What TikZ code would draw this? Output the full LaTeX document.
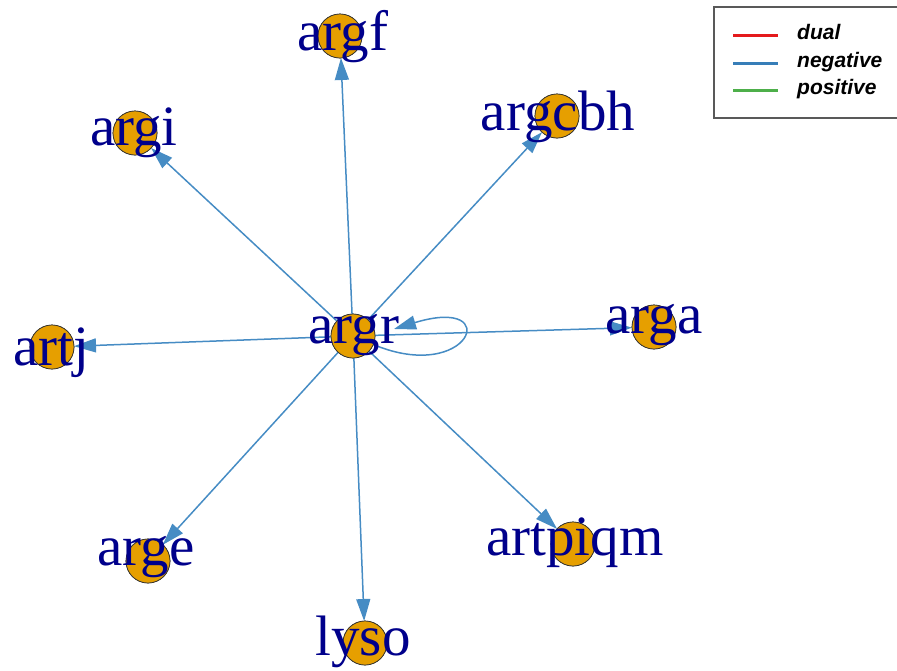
\documentclass[tikz,border=0pt]{standalone}
\usepackage{fontspec}
\setmainfont{Liberation Serif}
\newfontfamily\legendfont{Liberation Sans}
\usetikzlibrary{arrows.meta}
\definecolor{vtxorange}{HTML}{E69F00}
\definecolor{negblue}{RGB}{70,140,196}
\definecolor{leg-red}{HTML}{E41A1C}
\definecolor{leg-blue}{HTML}{377EB8}
\definecolor{leg-green}{HTML}{4DAF4A}
\definecolor{lbl-navy}{HTML}{00008B}
\begin{document}
\begin{tikzpicture}[x=1pt, y=-1pt,
    vtx/.style={circle, draw=black!80, fill=vtxorange, line width=0.7pt,
      minimum size=44pt, inner sep=0pt, outer sep=0pt},
    lbl/.style={anchor=base, inner sep=0pt, text=lbl-navy,
      font=\fontsize{57}{57}\selectfont},
    neg/.style={draw=negblue, line width=1.5pt,
      -{Triangle[length=22pt, width=14pt]}},
    legtxt/.style={anchor=mid west, inner sep=0pt,
      font=\legendfont\fontsize{21}{21}\selectfont\bfseries\itshape},
    legline/.style={line width=3pt}
  ]
    \useasboundingbox (0,0) rectangle (897,670);

    % Vertices
    \node[vtx] (argr) at (353,336) {};
    \node[vtx] (argf) at (340,36) {};
    \node[vtx] (argi) at (135,133) {};
    \node[vtx] (argcbh) at (557,116) {};
    \node[vtx] (arga) at (654,327) {};
    \node[vtx] (artj) at (52,347) {};
    \node[vtx] (arge) at (148,561) {};
    \node[vtx] (lyso) at (365,643) {};
    \node[vtx] (artpiqm) at (573,544) {};
    \coordinate (argr-loop) at (394,329);

    % Edges (all negative)
    \foreach \t in {argf,argi,argcbh,arga,artj,arge,lyso,artpiqm}
        \draw[neg] (argr) -- (\t);
    % Self-loop
    \draw[neg] (argr) .. controls (470,385) and (505,295) .. (argr-loop);

    % Vertices again on top of the edges
    \foreach \v in {argr,argf,argi,argcbh,arga,artj,arge,lyso,artpiqm}
        \node[vtx] at (\v) {};

    % Labels
    \foreach \v/\bx/\by in {argr/354/343, argf/343/50, argi/134/145,
        argcbh/558/130, arga/654/333, artj/51/365, arge/146/565,
        lyso/363/655, artpiqm/575/555}
        \node[lbl] (\v-lbl) at (\bx,\by) {\v};

    % Legend
    \draw[draw=black!65, line width=1.2pt] (714,7) rectangle (905,118);
    \draw[legline, leg-red] (733,35) -- (778,35);
    \draw[legline, leg-blue] (733,63) -- (778,63);
    \draw[legline, leg-green] (733,90) -- (778,90);
    \node[legtxt] (leg-dual) at (797,37.5) {dual};
    \node[legtxt] (leg-neg) at (797,65.5) {negative};
    \node[legtxt] (leg-pos) at (797,92.5) {positive};
\end{tikzpicture}
\end{document}
